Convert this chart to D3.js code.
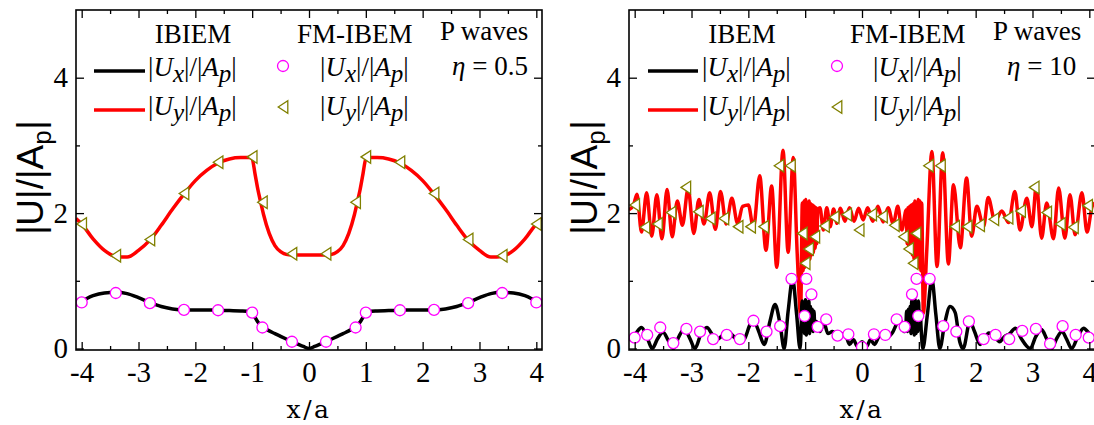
<!DOCTYPE html>
<html><head><meta charset="utf-8">
<script src="https://cdn.jsdelivr.net/npm/d3@7"></script>
<style>body{margin:0;background:#fff}svg{display:block}</style>
</head><body>
<svg id="c" width="1094" height="425"></svg>
<script>
// ---------- tick labels ----------
const xTickLabels = [-4,-3,-2,-1,0,1,2,3,4];
const yTickLabels = [0,2,4];

// ---------- Left panel (eta = 0.5) : IBIEM lines ----------
const leftLineX  = [-4.1,-4.0,-3.8,-3.6,-3.4,-3.2,-3.0,-2.8,-2.6,-2.4,-2.2,-2.0,-1.8,-1.6,-1.4,-1.2,-1.05,-1.0,-0.95,-0.9,-0.85,-0.8,-0.7,-0.6,-0.5,-0.4,-0.3,-0.2,-0.1,0,
                    0.1,0.2,0.3,0.4,0.5,0.6,0.7,0.8,0.85,0.9,0.95,1.0,1.05,1.2,1.4,1.6,1.8,2.0,2.2,2.4,2.6,2.8,3.0,3.2,3.4,3.6,3.8,4.0,4.1];
const leftUx = [0.66,0.70,0.78,0.82,0.83,0.81,0.75,0.68,0.62,0.585,0.57,0.57,0.57,0.565,0.56,0.555,0.545,0.535,0.46,0.39,0.34,0.31,0.26,0.22,0.18,0.14,0.10,0.065,0.03,0.0,
                0.03,0.065,0.10,0.14,0.18,0.22,0.26,0.31,0.34,0.39,0.46,0.535,0.545,0.555,0.56,0.565,0.57,0.57,0.57,0.585,0.62,0.68,0.75,0.81,0.83,0.82,0.78,0.70,0.66];
const leftUy = [1.92,1.84,1.62,1.45,1.36,1.35,1.45,1.60,1.82,2.06,2.28,2.48,2.63,2.74,2.80,2.82,2.82,2.80,2.58,2.35,2.16,1.98,1.70,1.52,1.43,1.39,1.38,1.38,1.38,1.38,
                1.38,1.38,1.38,1.39,1.43,1.52,1.70,1.98,2.16,2.35,2.58,2.80,2.82,2.82,2.80,2.74,2.63,2.48,2.28,2.06,1.82,1.60,1.45,1.35,1.36,1.45,1.62,1.84,1.92];
// FM-IBEM markers (left)
const leftMarkX  = [-4.0,-3.4,-2.8,-2.2,-1.6,-1.0,-0.82,-0.3,0.3,0.82,1.0,1.6,2.2,2.8,3.4,4.0];
const leftMarkUx = [0.68,0.82,0.67,0.57,0.565,0.53,0.31,0.10,0.10,0.31,0.53,0.565,0.57,0.67,0.82,0.68];
const leftMarkUy = [1.84,1.37,1.61,2.29,2.75,2.83,2.16,1.40,1.40,2.16,2.83,2.75,2.29,1.61,1.37,1.84];

// ---------- Right panel (eta = 10) : IBEM lines ----------
const rightUyX = [-4.10,-4.02,-3.96,-3.88,-3.79,-3.70,-3.61,-3.52,-3.43,-3.34,-3.25,-3.16,-3.06,-2.96,-2.87,-2.78,-2.68,-2.58,-2.49,-2.39,-2.29,-2.19,-2.10,-2.00,-1.91,-1.80,-1.69,-1.59,-1.50,-1.39,-1.30,-1.21,-1.14,-1.08,
  -1.05,-1.035,-1.02,-1.005,-0.99,-0.975,-0.96,-0.945,-0.93,-0.915,-0.90,-0.885,-0.87,-0.855,-0.84,-0.825,-0.81,-0.795,-0.78,
  -0.74,-0.68,-0.62,-0.56,-0.50,-0.44,-0.38,-0.30,-0.22,-0.14,-0.06,0.02,0.10,0.19,0.28,0.37,0.46,0.55,0.63,0.70,
  0.78,0.795,0.81,0.825,0.84,0.855,0.87,0.885,0.90,0.915,0.93,0.945,0.96,0.975,0.99,1.005,1.02,1.035,1.05,
  1.08,1.14,1.23,1.32,1.42,1.52,1.61,1.73,1.84,1.93,2.02,2.14,2.22,2.34,2.46,2.58,2.69,2.78,2.90,2.99,3.07,3.16,3.25,3.37,3.46,3.57,3.66,3.75,3.87,3.96,4.05,4.10];
const rightUy = [2.05,2.12,2.28,1.72,2.30,1.66,2.27,1.62,2.35,1.65,2.18,1.82,2.36,1.70,2.20,1.84,2.30,1.76,2.32,1.84,2.22,1.85,2.10,2.12,1.78,2.55,1.45,2.40,1.20,2.93,1.42,2.82,1.40,0.50,
  2.15,1.15,2.18,1.20,2.20,1.25,2.16,1.28,2.18,1.32,2.14,1.38,2.12,1.42,2.10,1.48,2.08,1.55,2.05,
  2.08,1.75,2.08,1.80,2.06,1.85,2.07,1.88,2.08,1.88,2.07,1.90,2.08,1.88,2.10,1.87,2.08,1.84,2.10,1.75,
  2.05,1.55,2.08,1.48,2.10,1.42,2.12,1.38,2.14,1.32,2.18,1.28,2.16,1.25,2.20,1.20,2.18,1.15,2.15,
  0.52,1.45,2.91,1.21,2.89,1.25,2.42,1.49,2.52,1.66,2.10,1.80,2.23,1.88,2.03,1.86,2.32,1.75,2.22,1.80,2.42,1.63,2.15,1.62,2.37,1.63,2.27,1.68,2.30,1.72,2.10,2.15];

const rightUxX = [-4.10,-4.00,-3.88,-3.78,-3.69,-3.60,-3.50,-3.41,-3.32,-3.22,-3.13,-3.03,-2.94,-2.84,-2.73,-2.63,-2.56,-2.46,-2.35,-2.24,-2.16,-2.07,-1.97,-1.90,-1.82,-1.72,-1.62,-1.53,-1.44,-1.37,-1.30,-1.22,-1.15,-1.09,
  -1.07,-1.055,-1.04,-1.025,-1.01,-0.995,-0.98,-0.965,-0.95,-0.935,-0.92,-0.905,-0.89,-0.875,-0.86,-0.845,-0.83,
  -0.80,-0.74,-0.67,-0.60,-0.52,-0.44,-0.36,-0.28,-0.22,-0.15,-0.08,0.00,0.08,0.15,0.22,0.30,0.38,0.46,0.54,0.62,0.68,0.74,
  0.77,0.785,0.80,0.815,0.83,0.845,0.86,0.875,0.89,0.905,0.92,0.935,0.95,0.965,0.98,0.995,1.01,1.025,1.04,
  1.07,1.15,1.23,1.30,1.37,1.45,1.55,1.64,1.72,1.78,1.90,1.98,2.08,2.15,2.23,2.34,2.42,2.50,2.60,2.70,2.80,2.96,3.06,3.16,3.25,3.34,3.42,3.52,3.60,3.69,3.80,3.90,4.00,4.10];
const rightUx = [0.12,0.20,0.31,0.16,0.0,0.14,0.24,0.12,0.0,0.18,0.29,0.15,0.0,0.20,0.31,0.20,0.13,0.19,0.24,0.16,0.10,0.14,0.35,0.40,0.26,0.06,0.40,0.65,0.35,0.0,0.55,1.02,0.50,0.0,
  0.30,0.70,0.25,0.68,0.22,0.72,0.20,0.66,0.25,0.70,0.22,0.62,0.28,0.58,0.25,0.55,0.30,
  0.40,0.25,0.38,0.22,0.25,0.20,0.22,0.18,0.06,0.13,0.03,0.10,0.03,0.13,0.06,0.18,0.22,0.18,0.24,0.38,0.42,0.25,
  0.30,0.55,0.25,0.58,0.28,0.62,0.22,0.70,0.25,0.66,0.20,0.72,0.22,0.68,0.25,0.70,0.30,0.55,0.30,
  0.0,0.50,1.02,0.50,0.0,0.35,0.62,0.53,0.10,0.0,0.40,0.25,0.06,0.14,0.23,0.18,0.10,0.17,0.22,0.30,0.15,0.0,0.18,0.28,0.14,0.0,0.14,0.25,0.14,0.0,0.18,0.30,0.22,0.14];

// FM-IBEM markers (right)
const rightCircX = [-4.0,-3.78,-3.55,-3.32,-3.09,-2.85,-2.62,-2.38,-2.15,-1.91,-1.68,-1.44,-1.24,-1.01,-0.98,-0.89,-0.78,-0.63,-0.43,-0.24,0.0,0.21,0.41,0.61,0.75,0.88,0.96,0.99,1.19,1.43,1.66,1.88,2.14,2.35,2.59,2.82,3.06,3.31,3.53,3.76,3.99];
const rightCircV = [0.16,0.20,0.31,0.08,0.29,0.25,0.14,0.20,0.14,0.41,0.25,0.33,1.03,0.48,1.03,0.80,0.32,0.43,0.19,0.21,0.02,0.21,0.20,0.43,0.32,0.80,1.03,0.48,1.03,0.33,0.25,0.40,0.14,0.20,0.14,0.26,0.29,0.07,0.33,0.20,0.16];
const rightTriX = [-4.0,-3.82,-3.60,-3.36,-3.10,-2.88,-2.67,-2.43,-2.18,-1.96,-1.73,-1.46,-1.26,-1.05,-1.00,-0.94,-0.83,-0.66,-0.49,-0.27,-0.05,0.17,0.36,0.57,0.73,0.82,0.90,0.95,1.17,1.38,1.63,1.85,2.07,2.32,2.57,2.79,3.03,3.25,3.49,3.72,3.97];
const rightTriV = [2.12,1.79,1.84,2.01,2.38,2.02,1.92,1.92,1.80,1.80,1.80,2.70,2.70,1.70,1.26,1.47,1.65,1.81,1.94,1.98,1.75,1.98,1.95,1.82,1.65,1.47,1.26,1.70,2.70,2.70,1.80,1.80,1.82,1.91,1.93,2.03,2.38,2.01,1.84,1.79,2.11];

// ---------- drawing ----------
const svg = d3.select('#c');
const SERIF = "'Liberation Serif','Times New Roman',serif";

function zipXY(xs, ys){ return xs.map((x,i)=>[x, ys[i]]); }

function richText(g, x, y, parts, size, anchor){
  const t = g.append('text').attr('x',x).attr('y',y)
    .attr('font-family',SERIF).attr('font-size',size).attr('fill','#000');
  if (anchor) t.attr('text-anchor',anchor);
  let shift = 0;
  parts.forEach(p=>{
    const ts = t.append('tspan').text(p.t);
    if (p.i) ts.attr('font-style','italic');
    const target = p.sub ? 6 : 0;
    if (target !== shift){ ts.attr('dy', target - shift); shift = target; }
    if (p.sub) ts.attr('font-size', size-2);
  });
  return t;
}

const uxParts = [{t:'|'},{t:'U',i:1},{t:'x',i:1,sub:1},{t:'|/|'},{t:'A',i:1},{t:'p',i:1,sub:1},{t:'|'}];
const uyParts = [{t:'|'},{t:'U',i:1},{t:'y',i:1,sub:1},{t:'|/|'},{t:'A',i:1},{t:'p',i:1,sub:1},{t:'|'}];

function drawPanel(cfg){
  const g = svg.append('g');
  const x = d3.scaleLinear().domain([-4.1,4.1]).range([cfg.x0,cfg.x1]);
  const y = d3.scaleLinear().domain([-0.022,5.0]).range([350,10]);
  const clipId = 'clip'+cfg.id;
  svg.append('clipPath').attr('id',clipId).append('rect')
    .attr('x',cfg.x0).attr('y',10).attr('width',cfg.x1-cfg.x0).attr('height',340);

  const line = d3.line().x(d=>x(d[0])).y(d=>y(d[1])).curve(cfg.curve);
  const lg = g.append('g').attr('clip-path',`url(#${clipId})`);
  lg.append('path').attr('d',line(zipXY(cfg.lineX2, cfg.uy))).attr('fill','none')
    .attr('stroke','#ff0000').attr('stroke-width',cfg.lw).attr('stroke-linejoin','round');
  lg.append('path').attr('d',line(zipXY(cfg.lineX1, cfg.ux))).attr('fill','none')
    .attr('stroke','#000').attr('stroke-width',cfg.lw).attr('stroke-linejoin','round');

  // markers
  const tri = 'M-4.8,0L4.8,-6.3L4.8,6.3Z';
  lg.selectAll('path.tri').data(zipXY(cfg.triX,cfg.triV)).enter().append('path')
    .attr('class','tri').attr('d',tri).attr('transform',d=>`translate(${x(d[0])},${y(d[1])})`)
    .attr('fill','#fff').attr('stroke','#808000').attr('stroke-width',1.3);
  lg.selectAll('circle.c').data(zipXY(cfg.circX,cfg.circV)).enter().append('circle')
    .attr('class','c').attr('cx',d=>x(d[0])).attr('cy',d=>y(d[1])).attr('r',5.5)
    .attr('fill','#fff').attr('stroke','#ff00ff').attr('stroke-width',1.3);

  // axes (ticks inward)
  const xMinor = d3.range(-4.0,4.01,0.5).filter(v=>Math.abs(v-Math.round(v))>0.1);
  const bottom = g.append('g').attr('transform','translate(0,350)')
    .call(d3.axisBottom(x).tickValues(xTickLabels).tickSize(-8).tickPadding(11).tickFormat(d3.format('d')));
  g.append('g').attr('transform','translate(0,350)')
    .call(d3.axisBottom(x).tickValues(xMinor).tickSize(-4).tickFormat(''));
  g.append('g').attr('transform','translate(0,10)')
    .call(d3.axisTop(x).tickValues(xTickLabels).tickSize(-8).tickFormat(''));
  g.append('g').attr('transform','translate(0,10)')
    .call(d3.axisTop(x).tickValues(xMinor).tickSize(-4).tickFormat(''));
  g.append('g').attr('transform',`translate(${cfg.x0},0)`)
    .call(d3.axisLeft(y).tickValues(yTickLabels).tickSize(-8).tickPadding(8).tickFormat(d3.format('d')));
  g.append('g').attr('transform',`translate(${cfg.x0},0)`)
    .call(d3.axisLeft(y).tickValues([1,3]).tickSize(-4).tickFormat(''));
  g.append('g').attr('transform',`translate(${cfg.x1},0)`)
    .call(d3.axisRight(y).tickValues(yTickLabels).tickSize(-8).tickFormat(''));
  g.append('g').attr('transform',`translate(${cfg.x1},0)`)
    .call(d3.axisRight(y).tickValues([1,3]).tickSize(-4).tickFormat(''));
  g.selectAll('.domain').remove();
  g.selectAll('.tick line').attr('stroke','#000').attr('stroke-width',1.3);
  g.selectAll('.tick text').attr('font-family',SERIF).attr('font-size',29).attr('fill','#000');
  bottom.selectAll('.tick text').text(d=> d<0 ? '-'+Math.abs(d) : String(d));

  g.append('rect').attr('x',cfg.x0).attr('y',10).attr('width',cfg.x1-cfg.x0).attr('height',340)
    .attr('fill','none').attr('stroke','#000').attr('stroke-width',1.6);

  // axis titles
  g.append('text').attr('x',(cfg.x0+cfg.x1)/2).attr('y',418).attr('text-anchor','middle')
    .attr('font-family',"'DejaVu Serif',serif").attr('font-size',25).attr('letter-spacing',2.5).text('x/a');
  const yl = g.append('text').attr('transform',`translate(${cfg.yLabX},178) rotate(-90)`)
    .attr('text-anchor','middle').attr('font-family',"'Liberation Sans',Arial,sans-serif").attr('font-size',37);
  yl.append('tspan').attr('font-style','italic').text('|');
  yl.append('tspan').text('U|/|A');
  yl.append('tspan').attr('font-size',26).attr('dy',8).text('p');
  yl.append('tspan').attr('dy',-8).attr('font-style','italic').text('|');

  // legend
  const L = cfg.leg;
  richText(g, L.h1, 43, [{t:cfg.method}], 27, 'middle');
  g.append('line').attr('x1',L.lx0).attr('x2',L.lx1).attr('y1',71).attr('y2',71).attr('stroke','#000').attr('stroke-width',3.5);
  richText(g, L.t1, 76, uxParts, 27);
  g.append('line').attr('x1',L.lx0).attr('x2',L.lx1).attr('y1',110).attr('y2',110).attr('stroke','#f00').attr('stroke-width',3.5);
  richText(g, L.t1, 115, uyParts, 27);
  richText(g, L.h2, 43, [{t:'FM-IBEM'}], 27);
  g.append('circle').attr('cx',L.mk).attr('cy',66).attr('r',5.5).attr('fill','#fff').attr('stroke','#ff00ff').attr('stroke-width',1.3);
  richText(g, L.t2, 76, uxParts, 27);
  g.append('path').attr('d',tri).attr('transform',`translate(${L.mk},107)`).attr('fill','#fff').attr('stroke','#808000').attr('stroke-width',1.3);
  richText(g, L.t2, 115, uyParts, 27);
  richText(g, L.pw, 40, [{t:'P waves'}], 27);
  richText(g, L.eta, 75, [{t:'η',i:1},{t:' = ' + cfg.eta}], 27);
}

drawPanel({id:'L', x0:76, x1:542, yLabX:43, method:'IBIEM', eta:'0.5', lw:3.5,
  curve:d3.curveMonotoneX,
  lineX1:leftLineX, ux:leftUx, lineX2:leftLineX, uy:leftUy,
  circX:leftMarkX, circV:leftMarkUx, triX:leftMarkX, triV:leftMarkUy,
  leg:{h1:193, lx0:94, lx1:145, t1:148, h2:297, mk:283, t2:320, pw:440, eta:452}});

drawPanel({id:'R', x0:629, x1:1095, yLabX:597, method:'IBEM', eta:'10', lw:3.5,
  curve:d3.curveMonotoneX,
  lineX1:rightUxX, ux:rightUx, lineX2:rightUyX, uy:rightUy,
  circX:rightCircX, circV:rightCircV, triX:rightTriX, triV:rightTriV,
  leg:{h1:742, lx0:648, lx1:698, t1:702, h2:850, mk:837, t2:873, pw:993, eta:1007}});
</script>
</body></html>
